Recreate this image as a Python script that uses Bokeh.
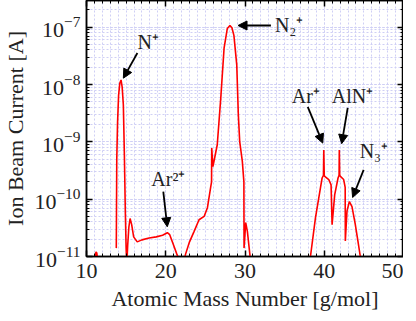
from bokeh.plotting import figure
from bokeh.embed import file_html
from bokeh.resources import INLINE
from bokeh.core.properties import value
from bokeh.models import (LinearAxis, LogAxis, SingleIntervalTicker, LogTicker,
                          CustomJSTickFormatter, Arrow, NormalHead, ColumnDataSource, Range1d)

# ---- data ----
mass_a = [11.0, 11.2, 11.3, 11.45]
curr_a = [8e-12, 1.2e-11, 1.15e-11, 8e-12]

mass_b = [13.76, 13.82, 13.92, 14.05, 14.20, 14.36, 14.50, 14.65, 14.78, 14.90, 15.00, 15.08,
          15.20, 15.35, 15.50, 15.70, 15.95, 16.40, 17.00, 17.90, 18.80, 19.60, 20.20, 20.50,
          20.90, 21.40, 21.80, 22.10, 22.50, 23.00, 23.58, 24.20, 24.84, 25.26, 25.68, 25.78,
          25.80, 25.95, 26.20, 26.50, 26.94, 27.36, 27.77, 28.10, 28.35, 28.60, 28.96, 29.16,
          29.33, 29.66, 29.86, 29.88, 30.09, 30.30, 30.62, 30.75]
curr_b = [1.4e-11, 5e-10, 2.2e-9, 6.5e-9, 1.05e-8, 1.2e-8, 9e-9, 4.4e-9, 5.9e-10, 6e-11, 1.4e-11, 7e-12,
          1.6e-11, 3.3e-11, 4.6e-11, 3.6e-11, 2.2e-11, 1.8e-11, 1.95e-11, 2.1e-11, 2.2e-11, 2.35e-11, 2.6e-11, 2.4e-11,
          1.7e-11, 1.1e-11, 8e-12, 6e-12, 1.1e-11, 1.8e-11, 2.75e-11, 4.37e-11, 5.0e-11, 7.1e-11, 1.66e-10, 2.0e-10,
          7.8e-10, 3.7e-10, 5.5e-10, 8.9e-10, 5.75e-9, 4.3e-8, 9.5e-8, 1.07e-7, 9.8e-8, 7.2e-8, 2.2e-8, 2.95e-9,
          1.02e-9, 4.6e-10, 2.0e-10, 1.4e-11, 3.9e-11, 2.75e-11, 1.07e-11, 6e-12]

mass_c = [38.15, 38.26, 38.89, 39.52, 39.73, 39.90, 39.94, 40.00, 40.06, 40.57, 40.86, 40.99, 41.32, 41.74,
          41.87, 41.90, 41.95, 42.04, 42.45, 42.64, 42.66, 42.87, 43.17, 43.50, 43.92, 44.25, 44.55, 44.65]
curr_c = [7e-12, 1.0e-11, 4.7e-11, 1.58e-10, 2.34e-10, 2.6e-10, 7.2e-10, 2.6e-10, 2.5e-10, 2.2e-10, 1.78e-10, 3.6e-11, 1.2e-10, 2.34e-10,
          2.6e-10, 7.2e-10, 2.6e-10, 2.5e-10, 2.2e-10, 1.6e-10, 1.86e-11, 6.2e-11, 9.1e-11, 7.4e-11, 3.6e-11, 1.86e-11, 1.0e-11, 7e-12]

label_text = ["N\u207a", "N\u2082\u207a", "Ar\u00b2\u207a", "Ar\u207a", "AlN\u207a", "N\u2083\u207a"]
label_x = [16.42, 33.77, 18.18, 35.91, 40.94, 44.47]
label_y = [5.5e-8, 1.08e-7, 2.24e-10, 6.2e-9, 6.2e-9, 6.8e-10]

arrow_x0 = [16.42, 33.27, 19.69, 37.92, 42.96, 44.97]
arrow_y0 = [3.55e-8, 1.07e-7, 1.35e-10, 4.07e-9, 3.9e-9, 3.24e-10]
arrow_x1 = [14.65, 29.12, 20.19, 39.81, 42.20, 43.58]
arrow_y1 = [1.29e-8, 1.07e-7, 3.3e-11, 9.5e-10, 9.3e-10, 1.07e-10]

x_lo, x_hi = 10, 50
y_lo, y_hi = 1e-11, 2.92e-7
x_title = "Atomic Mass Number [g/mol]"
y_title = "Ion Beam Current [A]"

FONT = "Liberation Serif"

p = figure(width=403, height=313, x_range=Range1d(x_lo, x_hi), y_range=Range1d(y_lo, y_hi),
           y_axis_type="log", output_backend="svg", toolbar_location=None,
           min_border_top=0, min_border_right=0, min_border_left=0, min_border_bottom=0)
p.outline_line_color = "black"
p.outline_line_width = 1.5

blank = CustomJSTickFormatter(code="return '';")

xt = SingleIntervalTicker(interval=10, num_minor_ticks=10)
yt = LogTicker(num_minor_ticks=10)

def style(ax, labels=True):
    ax.axis_line_color = "black"
    ax.axis_line_width = 1.5
    ax.major_tick_in = 6
    ax.major_tick_out = 0
    ax.minor_tick_in = 3
    ax.minor_tick_out = 0
    ax.major_tick_line_color = "black"
    ax.major_tick_line_width = 1.5
    ax.minor_tick_line_color = "black"
    ax.minor_tick_line_width = 1
    ax.major_label_text_font = FONT
    ax.major_label_text_color = "#222222"
    ax.axis_label_text_font = FONT
    ax.axis_label_text_font_style = "normal"
    ax.axis_label_text_color = "#222222"
    if labels:
        ax.major_label_text_font_size = "22px"
        ax.axis_label_text_font_size = "22px"
    else:
        ax.major_label_text_font_size = "0px"
        ax.major_label_standoff = 0
        ax.formatter = blank

xa = p.xaxis[0]
xa.ticker = xt
style(xa)
xa.axis_label = x_title
xa.major_label_standoff = 7
xa.axis_label_standoff = 5

ya = p.yaxis[0]
ya.ticker = yt
style(ya)
ya.axis_label = y_title
ya.major_label_standoff = 6
ya.axis_label_standoff = 3

top = LinearAxis(ticker=xt)
style(top, labels=False)
p.add_layout(top, "above")
right = LogAxis(ticker=yt)
style(right, labels=False)
p.add_layout(right, "right")

for g, t in ((p.xgrid[0], xt), (p.ygrid[0], yt)):
    g.ticker = t
    g.grid_line_color = "#cfcff5"
    g.grid_line_dash = "2 2"
    g.grid_line_width = 1
    g.minor_grid_line_color = "#cfcff5"
    g.minor_grid_line_dash = "2 2"
    g.minor_grid_line_width = 1

for mx, cy in ((mass_a, curr_a), (mass_b, curr_b), (mass_c, curr_c)):
    p.line(mx, cy, line_color="#ff0000", line_width=1.6)

asrc = ColumnDataSource(dict(x0=arrow_x0, y0=arrow_y0, x1=arrow_x1, y1=arrow_y1))
p.add_layout(Arrow(source=asrc, x_start="x0", y_start="y0", x_end="x1", y_end="y1",
                   line_color="black", line_width=1.8,
                   end=NormalHead(size=9, fill_color="black", line_color="black")))

lsrc = ColumnDataSource(dict(x=label_x, y=label_y, t=label_text))
p.text(x="x", y="y", text="t", source=lsrc, text_font=value(FONT), text_font_size="20px",
       text_align="left", text_baseline="middle", text_color="#222222")

open("out.html", "w").write(file_html(p, INLINE))
